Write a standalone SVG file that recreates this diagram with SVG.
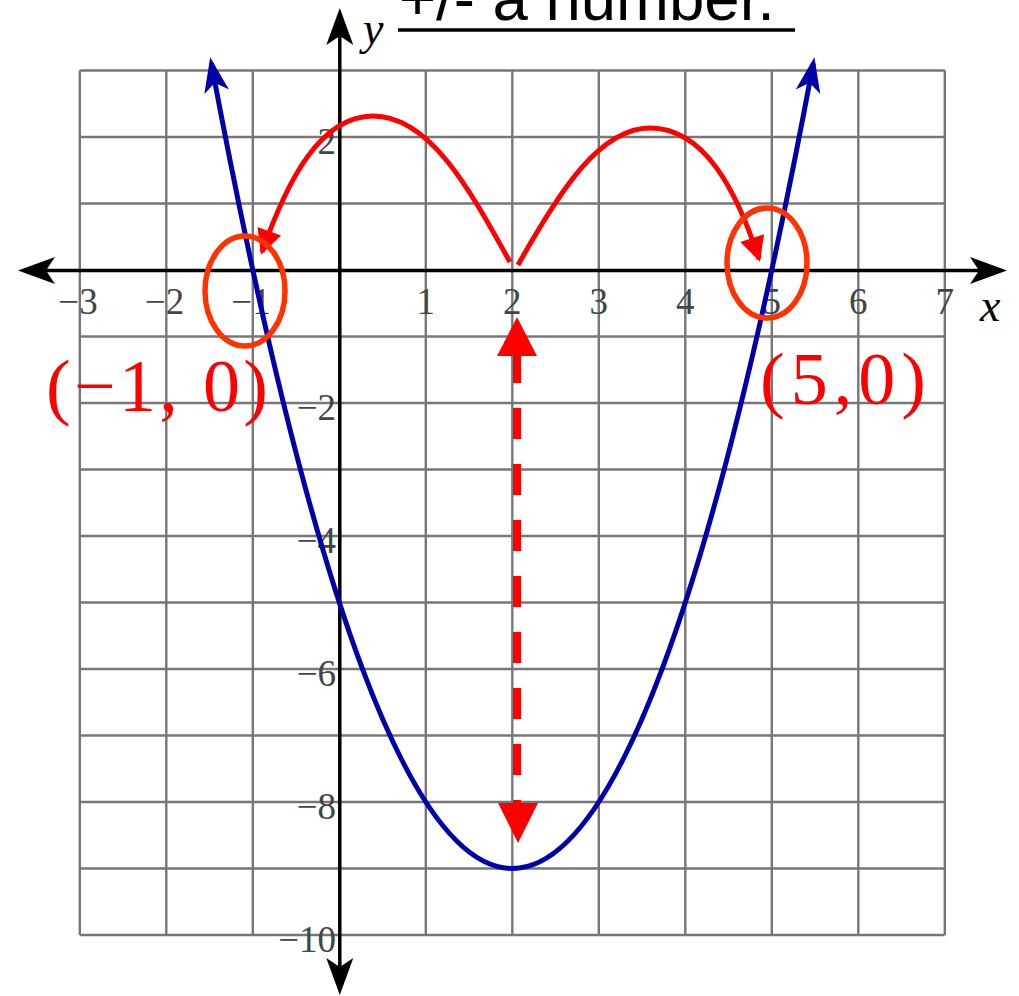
<svg xmlns="http://www.w3.org/2000/svg" width="1019" height="996" viewBox="0 0 1019 996">
<style>
.grid line{stroke:#777;stroke-width:2.4}
.axis{stroke:#000;stroke-width:3.5;fill:none}
.tick{font-family:"Liberation Serif",serif;font-size:37px;fill:#444}
.xt{text-anchor:middle}
.yt{text-anchor:end}
.var{font-family:"Liberation Serif",serif;font-style:italic;font-size:46px;fill:#000}
.red{stroke:#ff0000;stroke-width:5;fill:none}
.ring{stroke:#ff3300;stroke-width:5.5;fill:none}
.pt{font-family:"Liberation Serif",serif;font-size:74px;fill:#ff0000}
</style>
<defs>
<marker id="ak" viewBox="-40 -15 42 30" refX="-8" refY="0" markerWidth="42" markerHeight="30" markerUnits="userSpaceOnUse" orient="auto-start-reverse">
<path d="M0,0 L-37,-13.5 L-28,0 L-37,13.5 Z" fill="#000"/>
</marker>
<marker id="ab" viewBox="-40 -15 42 30" refX="-6" refY="0" markerWidth="42" markerHeight="30" markerUnits="userSpaceOnUse" orient="auto-start-reverse">
<path d="M0,0 L-35,-12.5 L-26,0 L-35,12.5 Z" fill="#0000a8"/>
</marker>
<marker id="ar" viewBox="-28 -14 30 28" refX="-3" refY="0" markerWidth="30" markerHeight="28" markerUnits="userSpaceOnUse" orient="auto">
<path d="M0,0 L-25,-12.5 L-25,12.5 Z" fill="#ff0000"/>
</marker>
</defs>
<g id="title">
<text x="399" y="19.5" font-family="Liberation Sans, Arial, sans-serif" font-size="63.5" fill="#000">+/- a number.</text>
<line x1="398" y1="30" x2="795" y2="30" stroke="#000" stroke-width="3.5"/>
</g>
<g id="grid" class="grid">
<line x1="79.8" y1="70.5" x2="79.8" y2="935"/>
<line x1="166.3" y1="70.5" x2="166.3" y2="935"/>
<line x1="252.8" y1="70.5" x2="252.8" y2="935"/>
<line x1="425.8" y1="70.5" x2="425.8" y2="935"/>
<line x1="512.3" y1="70.5" x2="512.3" y2="935"/>
<line x1="598.8" y1="70.5" x2="598.8" y2="935"/>
<line x1="685.3" y1="70.5" x2="685.3" y2="935"/>
<line x1="771.8" y1="70.5" x2="771.8" y2="935"/>
<line x1="858.3" y1="70.5" x2="858.3" y2="935"/>
<line x1="944.8" y1="70.5" x2="944.8" y2="935"/>
<line x1="79.8" y1="70.5" x2="944.8" y2="70.5"/>
<line x1="79.8" y1="137" x2="944.8" y2="137"/>
<line x1="79.8" y1="203.5" x2="944.8" y2="203.5"/>
<line x1="79.8" y1="336.5" x2="944.8" y2="336.5"/>
<line x1="79.8" y1="403" x2="944.8" y2="403"/>
<line x1="79.8" y1="469.5" x2="944.8" y2="469.5"/>
<line x1="79.8" y1="536" x2="944.8" y2="536"/>
<line x1="79.8" y1="602.5" x2="944.8" y2="602.5"/>
<line x1="79.8" y1="669" x2="944.8" y2="669"/>
<line x1="79.8" y1="735.5" x2="944.8" y2="735.5"/>
<line x1="79.8" y1="802" x2="944.8" y2="802"/>
<line x1="79.8" y1="868.5" x2="944.8" y2="868.5"/>
<line x1="79.8" y1="935" x2="944.8" y2="935"/>
</g>
<g id="axes">
<line class="axis" x1="26" y1="270.5" x2="999" y2="270.5" marker-start="url(#ak)" marker-end="url(#ak)"/>
<line class="axis" x1="339.8" y1="16" x2="339.8" y2="987" marker-start="url(#ak)" marker-end="url(#ak)"/>
<text class="var" x="363" y="44">y</text>
<text class="var" x="980" y="321">x</text>
</g>
<g id="ticks" class="tick">
<text class="xt" x="78" y="314">−3</text>
<text class="xt" x="164.5" y="314">−2</text>
<text class="xt" x="251" y="314">−1</text>
<text class="xt" x="425.8" y="314">1</text>
<text class="xt" x="512.3" y="314">2</text>
<text class="xt" x="598.8" y="314">3</text>
<text class="xt" x="685.3" y="314">4</text>
<text class="xt" x="771.8" y="314">5</text>
<text class="xt" x="858.3" y="314">6</text>
<text class="xt" x="944.8" y="314">7</text>
<text class="yt" x="336" y="154">2</text>
<text class="yt" x="336" y="420">−2</text>
<text class="yt" x="336" y="553">−4</text>
<text class="yt" x="336" y="686">−6</text>
<text class="yt" x="336" y="819">−8</text>
<text class="yt" x="336" y="952">−10</text>
</g>
<g id="parabola">
<path d="M211.3,63.2 Q512.3,1673.8 813.3,63.2" stroke="#0000a8" stroke-width="5" fill="none" marker-start="url(#ab)" marker-end="url(#ab)"/>
</g>
<g id="connectors">
<path id="arc-left" class="red" d="M510,262 C470,190 430,116 373,116 C320,116 287,181 262,252" marker-end="url(#ar)"/>
<path id="arc-right" class="red" d="M518,265 C560,190 600,128 650,128 C705,128 737,192 759,259" marker-end="url(#ar)"/>
<g id="dashed-span">
<line x1="517" y1="352" x2="517" y2="806" stroke="#ff0000" stroke-width="8" stroke-dasharray="31 25"/>
<polygon points="517,317 537,356 497,356" fill="#ff0000"/>
<polygon points="498,803 538,803 518,843" fill="#ff0000"/>
</g>
</g>
<g id="root-left">
<ellipse class="ring" cx="245" cy="291" rx="40" ry="55"/>
<text class="pt" x="46" y="411" textLength="222" lengthAdjust="spacing">(−1, 0)</text>
</g>
<g id="root-right">
<ellipse class="ring" cx="767" cy="263" rx="40" ry="55"/>
<text class="pt" x="760" y="404" textLength="166" lengthAdjust="spacing">(5,0)</text>
</g>
</svg>
